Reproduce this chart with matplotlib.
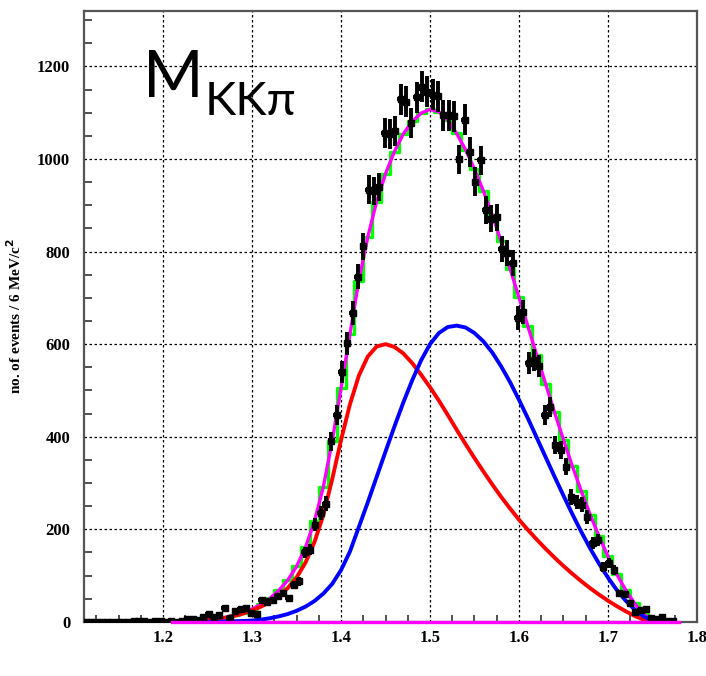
####################################################################
# KK-pi invariant mass spectrum with a two component fit
####################################################################

import numpy as np
import matplotlib

matplotlib.use("Agg")
from matplotlib import pyplot as plt
from matplotlib.ticker import MultipleLocator

# DATA
# measured counts, bins of 6 MeV starting at 1.113 GeV (bin centres)
bin_start = 1.113
bin_width = 0.006
counts = [
    0, 0, 0, 0, 0, 0, 0, 0, 0, 1,
    2, 1, 0, 1, 2, 0, 3, 0, 2, 6,
    7, 5, 10, 17, 10, 14, 30, 9, 24, 28,
    30, 20, 17, 47, 44, 47, 55, 62, 52, 80,
    88, 150, 156, 210, 235, 255, 390, 447, 540, 602,
    668, 746, 811, 934, 930, 940, 1057, 1053, 1060, 1129,
    1124, 1078, 1133, 1156, 1145, 1139, 1135, 1094, 1094, 1092,
    999, 1085, 1015, 951, 997, 890, 871, 874, 805, 797,
    776, 657, 669, 560, 565, 552, 447, 465, 383, 372,
    335, 270, 259, 253, 227, 171, 177, 119, 127, 112,
    62, 60, 40, 22, 26, 28, 9, 6, 11, 3,
    1,
]

# fit components, sampled every 10 MeV from 1.20 GeV
fit_start = 1.20
fit_step = 0.01
red_fit = [
    0, 0.5, 1, 2, 3, 4.5, 6.5, 9, 13, 18,
    25, 33, 43, 56, 73, 96, 128, 172, 230, 308,
    393, 470, 532, 573, 595, 600, 594, 580, 559, 534,
    507, 478, 447, 415, 384, 354, 325, 297, 270, 245,
    221, 199, 178, 158, 139, 121, 104, 88, 73, 59,
    46, 34, 23, 13, 5, 1, 0,
]
blue_fit = [
    0, 0, 0, 0, 0, 0.5, 0.5, 1, 1.5, 2,
    3, 5, 8, 12, 17, 24, 33, 45, 61, 82,
    112, 152, 205, 258, 313, 368, 422, 474, 522, 565,
    600, 624, 637, 640, 636, 624, 606, 582, 552, 518,
    480, 440, 398, 356, 314, 273, 233, 195, 159, 126,
    96, 69, 46, 27, 12, 3, 0,
]

# flat background
bkg_range = [1.21, 1.78]
bkg_level = [0, 0]

x_ticks = [1.2, 1.3, 1.4, 1.5, 1.6, 1.7, 1.8]
y_ticks = [0, 200, 400, 600, 800, 1000, 1200]

# derived arrays
counts = np.array(counts, dtype=float)
bin_x = bin_start + bin_width * np.arange(len(counts))
errors = np.sqrt(counts)

fit_x = fit_start + fit_step * np.arange(len(red_fit))
red_fit = np.array(red_fit)
blue_fit = np.array(blue_fit)
total_fit = red_fit + blue_fit

# PLOT
fig = plt.figure(figsize=(7.06, 6.76), dpi=100)
ax = fig.add_axes([0.119, 0.080, 0.868, 0.904])

# fit as histogram (green) and as smooth curve (magenta)
ax.step(fit_x, total_fit, where="mid", color="#00ff00", lw=2.4, zorder=2)
ax.plot(fit_x, total_fit, color="#ff00ff", lw=2.4, zorder=3)
ax.plot(fit_x, red_fit, color="#ff0000", lw=2.8, zorder=3)
ax.plot(fit_x, blue_fit, color="#0000ff", lw=2.8, zorder=3)
ax.plot(bkg_range, bkg_level, color="#ff00ff", lw=2.4, zorder=5, clip_on=False)

# data with error bars
ax.errorbar(
    bin_x, counts, yerr=errors, xerr=0.004,
    fmt="s", color="black", ms=4, elinewidth=2.8, capsize=0, zorder=4,
)

ax.set_xlim(1.111, 1.8)
ax.set_ylim(0, 1320)
ax.set_xticks(x_ticks)
ax.set_yticks(y_ticks)
ax.xaxis.set_minor_locator(MultipleLocator(0.025))
ax.yaxis.set_minor_locator(MultipleLocator(50))

ax.grid(True, which="major", color="black", linestyle=(0, (2, 2)), lw=0.9)
ax.set_axisbelow(True)

tick_font = {"family": "Liberation Serif", "weight": "bold", "size": 12}
ax.set_xticklabels([f"{t:.1f}" for t in x_ticks], fontdict=tick_font)
ax.set_yticklabels([str(t) for t in y_ticks], fontdict=tick_font)
ax.tick_params(axis="both", which="both", direction="in", color="#333333")
ax.tick_params(axis="y", which="major", length=0, pad=10)
ax.tick_params(axis="y", which="minor", length=6, width=1.2)
ax.tick_params(axis="x", which="major", length=0, pad=6)
ax.tick_params(axis="x", which="minor", length=5, width=1.2)

for side in ["left", "bottom", "top", "right"]:
    ax.spines[side].set_color("#555555")
    ax.spines[side].set_linewidth(1.6)

ax.set_ylabel(
    "no. of events / 6 MeV/c$^\\mathbf{2}$",
    fontfamily="Liberation Serif", fontweight="bold", fontsize=11, labelpad=9,
)

# big title inside the frame
fig.text(0.2025, 0.857, "M", fontsize=47, family=["Lato", "DejaVu Sans"], va="baseline")
fig.text(0.290, 0.830, "KKπ", fontsize=34, family=["Lato", "DejaVu Sans"], va="baseline")

fig.savefig("out.png", dpi=100)
